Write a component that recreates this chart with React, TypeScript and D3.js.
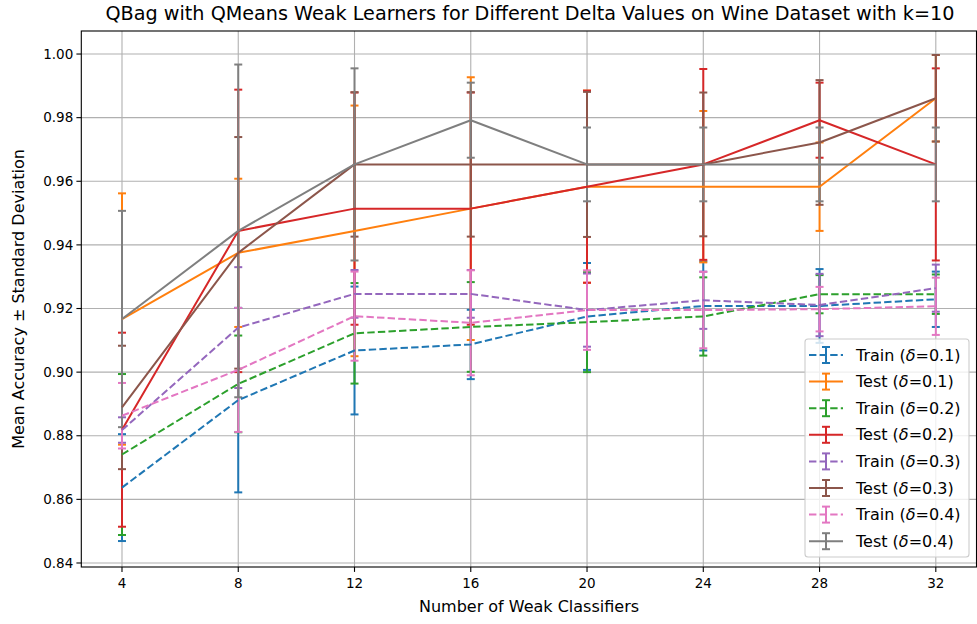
import React from 'react';
import * as d3 from 'd3';

const xs = [4, 8, 12, 16, 20, 24, 28, 32];

const trainMean01 = [0.8637, 0.8912, 0.9068, 0.9087, 0.9175, 0.9208, 0.9208, 0.9229];
const trainStd01 = [0.0168, 0.029, 0.0201, 0.0109, 0.0168, 0.014, 0.0116, 0.0087];
const testMean01 = [0.9167, 0.9375, 0.9444, 0.9514, 0.9583, 0.9583, 0.9583, 0.9861];
const testStd01 = [0.0395, 0.0233, 0.0394, 0.0413, 0.0302, 0.0238, 0.0139, 0.0136];
const trainMean02 = [0.8741, 0.8963, 0.9122, 0.9142, 0.9157, 0.9175, 0.9245, 0.9245];
const trainStd02 = [0.0253, 0.0152, 0.0158, 0.0141, 0.0157, 0.0123, 0.006, 0.0062];
const testMean02 = [0.8819, 0.9444, 0.9514, 0.9514, 0.9583, 0.9653, 0.9792, 0.9653];
const testStd02 = [0.0305, 0.0444, 0.0365, 0.0365, 0.0302, 0.03, 0.0118, 0.0302];
const trainMean03 = [0.8818, 0.914, 0.9246, 0.9246, 0.9195, 0.9226, 0.9211, 0.9264];
const trainStd03 = [0.004, 0.019, 0.0075, 0.0075, 0.0115, 0.009, 0.0098, 0.0074];
const testMean03 = [0.8889, 0.9375, 0.9653, 0.9653, 0.9653, 0.9653, 0.9722, 0.9861];
const testStd03 = [0.0194, 0.0364, 0.0227, 0.0227, 0.0228, 0.0226, 0.0196, 0.0136];
const trainMean04 = [0.8863, 0.9007, 0.9176, 0.9155, 0.9195, 0.9195, 0.9198, 0.9207];
const trainStd04 = [0.0103, 0.0195, 0.014, 0.0165, 0.0125, 0.012, 0.007, 0.009];
const testMean04 = [0.9167, 0.9444, 0.9653, 0.9792, 0.9653, 0.9653, 0.9653, 0.9653];
const testStd04 = [0.034, 0.0523, 0.0302, 0.0118, 0.0116, 0.0116, 0.0116, 0.0116];

const yTicks = [0.84, 0.86, 0.88, 0.9, 0.92, 0.94, 0.96, 0.98, 1.0];
const xTicks = [4, 8, 12, 16, 20, 24, 28, 32];
const kinds = ['Train', 'Test', 'Train', 'Test', 'Train', 'Test', 'Train', 'Test'];
const deltas = ['0.1', '0.1', '0.2', '0.2', '0.3', '0.3', '0.4', '0.4'];
const colors = ['#1f77b4', '#ff7f0e', '#2ca02c', '#d62728', '#9467bd', '#8c564b', '#e377c2', '#7f7f7f'];

const title = 'QBag with QMeans Weak Learners for Different Delta Values on Wine Dataset with k=10';
const xLabel = 'Number of Weak Classifiers';
const yLabel = 'Mean Accuracy \u00b1 Standard Deviation';

const means = [trainMean01, testMean01, trainMean02, testMean02, trainMean03, testMean03, trainMean04, testMean04];
const stds = [trainStd01, testStd01, trainStd02, testStd02, trainStd03, testStd03, trainStd04, testStd04];

export default function App() {
  const W = 977, H = 624;
  const left = 81.3, right = 976.5, top = 31, bottom = 567;
  const x = d3.scaleLinear().domain([2.6, 33.4]).range([left, right]);
  const y = d3.scaleLinear().domain([0.83874, 1.00724]).range([bottom, top]);
  const font = 'DejaVu Sans';
  const lw = 2;
  const cap = 4;
  const dash = '7.4,3.2';

  const series = means.map((m, i) => ({
    mean: m, std: stds[i], color: colors[i], dashed: kinds[i] === 'Train',
    kind: kinds[i], delta: deltas[i],
  }));

  const line = d3.line<number>().x((_, j) => x(xs[j])).y((d) => y(d));

  const legX = 805, legY = 339, legW = 164, legH = 218, rowH = 26.6;

  return (
    <svg width={W} height={H} style={{ position: 'absolute', left: 0, top: 0, background: '#fff' }}
      fontFamily={font}>
      <rect x={0} y={0} width={W} height={H} fill="#fff" />
      {xTicks.map((t) => (
        <line key={'gx' + t} x1={x(t)} x2={x(t)} y1={top} y2={bottom} stroke="#b0b0b0" strokeWidth={1.1} />
      ))}
      {yTicks.map((t) => (
        <line key={'gy' + t} x1={left} x2={right} y1={y(t)} y2={y(t)} stroke="#b0b0b0" strokeWidth={1.1} />
      ))}
      {series.map((s, i) => (
        <g key={'eb' + i} stroke={s.color} strokeWidth={lw}>
          {s.mean.map((m, j) => {
            const cx = x(xs[j]);
            const y1 = y(m + s.std[j]);
            const y2 = y(m - s.std[j]);
            return (
              <g key={j}>
                <line x1={cx} x2={cx} y1={y1} y2={y2} />
                <line x1={cx - cap} x2={cx + cap} y1={y1} y2={y1} />
                <line x1={cx - cap} x2={cx + cap} y1={y2} y2={y2} />
              </g>
            );
          })}
        </g>
      ))}
      {series.map((s, i) => (
        <path key={'ln' + i} d={line(s.mean) || ''} fill="none" stroke={s.color} strokeWidth={lw}
          strokeDasharray={s.dashed ? dash : undefined} strokeLinejoin="round" />
      ))}
      <rect x={left} y={top} width={right - left} height={bottom - top} fill="none" stroke="#000" strokeWidth={1.1} />
      {yTicks.map((t) => (
        <g key={'ty' + t}>
          <line x1={left - 4.9} x2={left} y1={y(t)} y2={y(t)} stroke="#000" strokeWidth={1.1} />
          <text x={left - 8} y={y(t)} dy="0.35em" textAnchor="end" fontSize={13.5}>{t.toFixed(2)}</text>
        </g>
      ))}
      {xTicks.map((t) => (
        <g key={'tx' + t}>
          <line x1={x(t)} x2={x(t)} y1={bottom} y2={bottom + 4.9} stroke="#000" strokeWidth={1.1} />
          <text x={x(t)} y={bottom + 20.5} textAnchor="middle" fontSize={13.5}>{t}</text>
        </g>
      ))}
      <text x={529} y={612} textAnchor="middle" fontSize={16}>{xLabel}</text>
      <text transform={`translate(24,${(top + bottom) / 2}) rotate(-90)`} textAnchor="middle" fontSize={16}>{yLabel}</text>
      <text x={530} y={20} textAnchor="middle" fontSize={19.2}>{title}</text>
      <rect x={legX} y={legY} width={legW} height={legH} rx={3} fill="#fff" fillOpacity={0.8} stroke="#cccccc" strokeWidth={1.1} />
      {series.map((s, i) => {
        const cy = legY + 16 + i * rowH;
        const hx = 826;
        return (
          <g key={'lg' + i}>
            <line x1={809} x2={843} y1={cy} y2={cy} stroke={s.color} strokeWidth={lw}
              strokeDasharray={s.dashed ? dash : undefined} />
            <line x1={hx} x2={hx} y1={cy - 8} y2={cy + 8} stroke={s.color} strokeWidth={lw} />
            <line x1={hx - cap} x2={hx + cap} y1={cy - 8} y2={cy - 8} stroke={s.color} strokeWidth={lw} />
            <line x1={hx - cap} x2={hx + cap} y1={cy + 8} y2={cy + 8} stroke={s.color} strokeWidth={lw} />
            <text x={856} y={cy} dy="0.35em" fontSize={16}>
              {s.kind + ' ('}
              <tspan fontStyle="italic">{'\u03b4'}</tspan>
              {'=' + s.delta + ')'}
            </text>
          </g>
        );
      })}
    </svg>
  );
}
